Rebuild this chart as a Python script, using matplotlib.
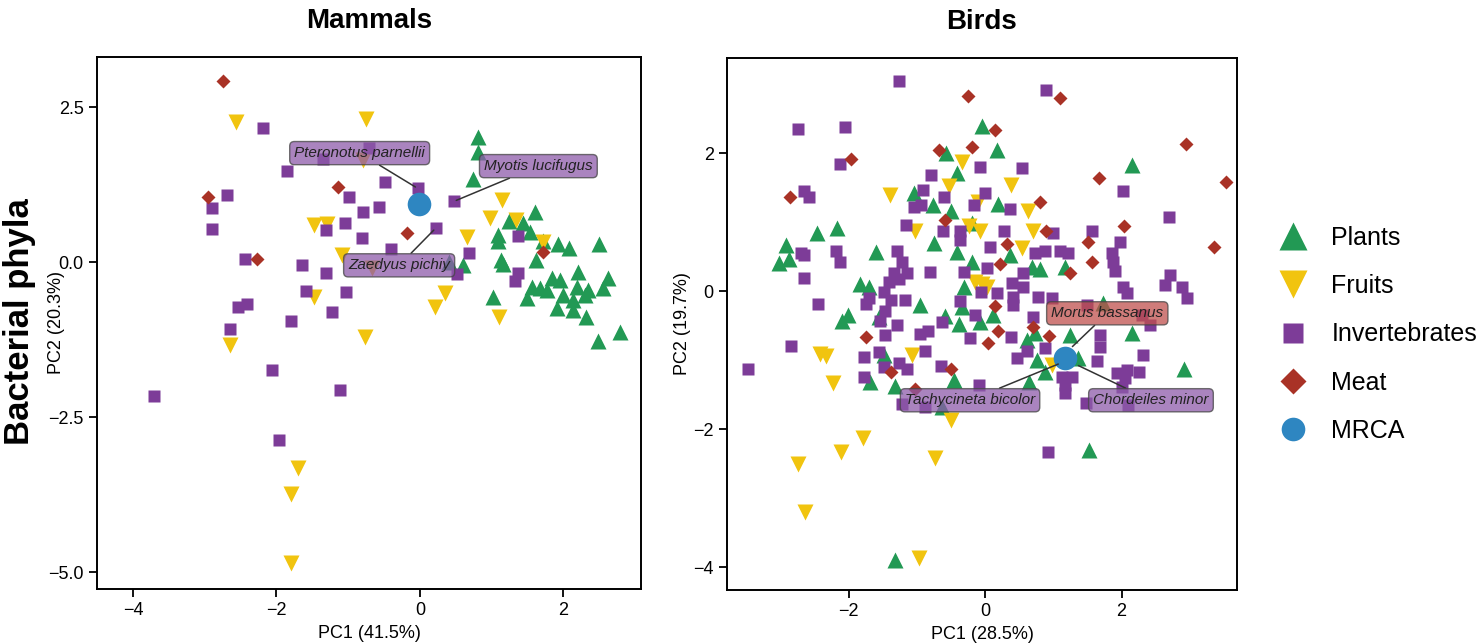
import matplotlib
matplotlib.use("Agg")
import matplotlib.pyplot as plt
from matplotlib.lines import Line2D

plt.rcParams['font.family'] = ['Liberation Sans', 'DejaVu Sans']

# colours per diet group
c_plants = '#229954'
c_fruits = '#F1C40F'
c_invert = '#7D3C98'
c_meat = '#A93226'
c_mrca = '#2E86C1'

# ---------------- Mammals (PC1 41.5%, PC2 20.3%) ----------------
mam_plants_x = [0.81, 0.81, 0.74, 1.60, 1.24, 1.44, 1.09, 1.09, 1.53, 1.72, 1.92, 2.08, 2.50,
                1.62, 1.13, 1.16, 2.20, 1.84, 1.95, 1.56, 1.67, 1.77, 2.19, 2.34, 2.55, 1.49,
                1.99, 2.30, 2.13, 1.02, 1.91, 2.13, 2.32, 2.79, 2.48, 0.40, 0.60, 2.62]
mam_plants_y = [2.02, 1.78, 1.34, 0.81, 0.66, 0.63, 0.44, 0.35, 0.48, 0.35, 0.29, 0.23, 0.29,
                0.03, 0.03, -0.03, -0.16, -0.26, -0.29, -0.40, -0.42, -0.45, -0.40, -0.44, -0.42, -0.58,
                -0.53, -0.53, -0.61, -0.56, -0.74, -0.77, -0.89, -1.13, -1.27, 0.0, -0.05, -0.26]
mam_fruits_x = [-2.57, -1.48, -1.30, -1.09, -1.48, -2.64, -1.70, -1.80, -1.79, -0.75, -0.80,
                -0.67, 0.66, 0.35, 0.21, 1.10, 1.14, 0.98, 1.34, 1.72, -0.77]
mam_fruits_y = [2.26, 0.60, 0.61, 0.11, -0.56, -1.34, -3.32, -3.74, -4.85, 2.31, 1.65,
                -0.10, 0.40, -0.50, -0.73, -0.89, 1.00, 0.71, 0.68, 0.32, -1.21]
mam_invert_x = [-2.19, -1.35, -1.85, -2.69, -2.90, -2.90, -0.99, -1.05, -1.31, -2.44, -1.65,
                -1.31, -1.59, -1.03, -2.54, -2.41, -1.23, -1.79, -2.64, -2.06, -3.70, -1.12,
                -1.97, -0.71, -0.49, -0.03, 0.47, -0.79, -0.57, 0.22, -0.81, -0.40, 0.68,
                0.52, 1.37, 1.37, 1.33]
mam_invert_y = [2.16, 1.66, 1.47, 1.08, 0.87, 0.53, 1.06, 0.63, 0.52, 0.06, -0.05,
                -0.18, -0.47, -0.48, -0.73, -0.68, -0.81, -0.94, -1.08, -1.73, -2.15, -2.06,
                -2.87, 1.85, 1.29, 1.19, 0.98, 0.81, 0.89, 0.55, 0.39, 0.21, 0.15,
                -0.19, 0.42, -0.18, -0.30]
mam_meat_x = [-2.75, -1.14, -2.96, -2.27, -0.18, 1.72]
mam_meat_y = [2.92, 1.21, 1.06, 0.05, 0.47, 0.16]
mam_mrca = (-0.01, 0.94)

# ---------------- Birds (PC1 28.5%, PC2 19.7%) ----------------
bird_plants_x = [-0.04, -0.57, -0.41, -1.04, -0.76, -0.50, -0.19, -2.17, -2.46, 0.18, 2.15, 0.19,
                 -2.91, -3.02, -2.87, -1.60, -1.83, -1.70, -0.95, -1.55, -2.01, -2.09, -0.59,
                 -0.38, -0.07, -0.34, -0.31, -0.19, -0.75, -0.41, -1.48, -1.68, -1.32, -0.45,
                 -1.32, 1.52, 0.37, 0.69, 0.81, 1.17, 0.12, 0.61, 0.73, 1.24, 0.76, 0.88, 0.64,
                 1.36, 2.15, 2.91, 1.73, -0.63]
bird_plants_y = [2.39, 2.00, 1.71, 1.42, 1.25, 1.16, 0.99, 0.91, 0.84, 2.04, 1.83, 1.26,
                 0.67, 0.41, 0.46, 0.57, 0.10, 0.06, -0.20, -0.38, -0.35, -0.43, -0.36,
                 -0.48, -0.45, -0.23, 0.06, 0.42, 0.70, 0.57, -0.93, -1.32, -1.38, -1.29,
                 -3.90, -2.30, 0.52, 0.35, 0.32, 0.35, -0.35, -0.71, -0.61, -0.64, -1.00, -1.17, -1.32,
                 -0.97, -0.61, -1.12, -0.17, -1.68]
bird_fruits_x = [-0.34, -0.53, -1.39, -0.10, -1.03, -0.23, -0.07, 0.38, 0.63, 0.70, -0.15,
                 -2.42, -2.33, -2.23, -1.07, -0.50, -1.79, -2.11, -2.74, -0.73, -2.64, -0.97,
                 0.54, 0.03, 0.98, -0.05]
bird_fruits_y = [1.87, 1.52, 1.39, 1.30, 0.87, 0.94, 0.87, 1.54, 1.16, 0.87, 0.13,
                 -0.91, -0.94, -1.33, -0.93, -1.87, -2.13, -2.33, -2.51, -2.42, -3.20, -3.87,
                 0.62, 0.06, -1.07, 0.10]
bird_invert_x = [-1.26, -2.74, -2.05, -2.12, -0.07, -0.79, -2.65, -2.58, -0.91, -0.60, -1.04,
                 -0.94, -0.16, -1.16, -0.61, -0.37, 0.89, 0.54, 2.02, 0.00, 0.37, 2.69, 1.57,
                 0.99, 0.28, -2.69, -2.65, -2.18, -2.12, -1.29, -1.22, -1.14, -1.33, -1.41,
                 -1.26, -1.48, -1.38, -1.17, -1.70, -1.74, -2.65, -2.45, -1.46, -1.54, -1.29,
                 -1.46, -0.95, -0.83, -0.88, -0.63, -0.22, -0.15, -0.37, -0.06, -0.31, -0.81,
                 -0.37, -2.84, -3.47, -1.77, -1.55, -1.48, -1.26, -1.14, -1.77, -0.64, -0.09,
                 0.07, 0.73, 0.88, 1.10, 1.22, 1.98, 1.86, 1.87, 1.90, 0.03, 0.56, 0.40, 0.56,
                 0.18, 0.41, 0.78, 0.98, 0.41, 2.02, 2.08, 2.71, 2.64, 2.88, 2.96, 0.70, 0.38,
                 0.88, 0.47, 0.61, 1.13, 1.27, 1.17, 1.17, 1.68, 1.68, 1.64, 2.31, 1.93, 2.08,
                 2.25, 2.05, 2.01, 1.48, 0.92, 2.30, 2.42, 1.49, -1.21, -0.88, 2.09]
bird_invert_y = [3.04, 2.35, 2.38, 1.85, 1.80, 1.68, 1.45, 1.36, 1.46, 1.36, 1.22,
                 1.25, 1.25, 0.96, 0.87, 0.87, 2.91, 1.78, 1.45, 1.42, 1.19, 1.07, 0.87,
                 0.84, 0.87, 0.55, 0.52, 0.58, 0.42, 0.58, 0.42, 0.26, 0.26, 0.14,
                 0.17, -0.01, -0.13, -0.13, -0.10, -0.19, 0.19, -0.19, -0.28, -0.43, -0.49,
                 -0.64, -0.62, -0.58, -0.86, -0.45, -0.68, -0.35, -0.14, -0.01, 0.28, 0.28,
                 0.74, -0.80, -1.12, -0.96, -0.88, -1.10, -1.04, -1.13, -1.25, -1.09, -1.36,
                 0.64, 0.55, 0.59, 0.59, 0.55, 0.71, 0.55, 0.42, 0.30, 0.33, 0.26, 0.12, 0.06,
                 -0.03, -0.09, -0.09, -0.10, -0.20, 0.06, -0.03, 0.23, 0.09, 0.06, -0.10, -0.38, -0.67,
                 -0.83, -0.97, -0.86, -1.25, -1.25, -1.36, -1.48, -0.64, -0.81, -1.01, -0.93, -1.19, -1.14,
                 -1.17, -1.26, -1.39, -1.62, -2.33, -0.35, -0.49, -0.20, -1.63, -1.68, -1.65]
bird_meat_x = [-0.25, -0.67, -0.19, -1.96, -2.86, -0.59, 1.10, 0.15, 2.94, 1.67, 3.53, 0.81,
               2.04, 0.89, -1.74, -1.38, -1.02, -0.50, 0.32, 1.51, 1.57, 3.35, 0.22, 1.24,
               0.15, 0.19, 0.04, 0.70, 0.94]
bird_meat_y = [2.83, 2.04, 2.09, 1.91, 1.36, 1.03, 2.80, 2.33, 2.14, 1.64, 1.59, 1.29,
               0.94, 0.88, -0.67, -1.17, -1.41, -1.13, 0.68, 0.71, 0.42, 0.64, 0.39, 0.26,
               -0.22, -0.57, -0.75, -0.52, -0.65]
bird_mrca = (1.17, -0.97)

groups = ['Plants', 'Fruits', 'Invertebrates', 'Meat', 'MRCA']

fig = plt.figure(figsize=(14.8, 6.43), dpi=100)
ax1 = fig.add_axes([97/1480, 1-589/643, 544/1480, 532/643])
ax2 = fig.add_axes([727/1480, 1-590/643, 510/1480, 532/643])


def draw_panel(ax, pl, fr, inv, me, mrca):
    ax.plot(pl[0], pl[1], '^', ms=12, color=c_plants, mec='none', ls='none')
    ax.plot(fr[0], fr[1], 'v', ms=12, color=c_fruits, mec='none', ls='none')
    ax.plot(inv[0], inv[1], 's', ms=8, color=c_invert, mec='none', ls='none')
    ax.plot(me[0], me[1], 'D', ms=7, color=c_meat, mec='none', ls='none')
    ax.plot([mrca[0]], [mrca[1]], 'o', ms=17, color=c_mrca, mec='none', ls='none', zorder=4)
    for s in ax.spines.values():
        s.set_linewidth(1.4)
    ax.tick_params(labelsize=13, length=6, width=1.3)


def tag(ax, text, xy, xytext, fc):
    ax.annotate(text, xy=xy, xytext=xytext, ha='center', va='center',
                fontsize=11, style='italic', color='#222222', zorder=6,
                bbox=dict(boxstyle='round,pad=0.3,rounding_size=0.3', fc=fc,
                          ec='#444444', alpha=0.75, lw=1),
                arrowprops=dict(arrowstyle='-', color='#333333', lw=1.1,
                                shrinkA=0, shrinkB=2))


draw_panel(ax1, (mam_plants_x, mam_plants_y), (mam_fruits_x, mam_fruits_y),
           (mam_invert_x, mam_invert_y), (mam_meat_x, mam_meat_y), mam_mrca)
ax1.set_xlim(-4.50, 3.08)
ax1.set_ylim(-5.27, 3.31)
ax1.set_xticks([-4, -2, 0, 2])
ax1.set_yticks([2.5, 0.0, -2.5, -5.0])
ax1.set_yticklabels(['2.5', '0.0', '\u22122.5', '\u22125.0'])
ax1.set_xlabel('PC1 (41.5%)', fontsize=13)
ax1.set_ylabel('PC2 (20.3%)', fontsize=13)
ax1.yaxis.set_label_coords(-0.059, 0.5)
ax1.set_title('Mammals', fontsize=20, fontweight='bold', pad=21)
tag(ax1, 'Pteronotus parnellii', (-0.03, 1.19), (-0.84, 1.76), '#8E5BAA')
tag(ax1, 'Myotis lucifugus', (0.47, 0.98), (1.65, 1.55), '#8E5BAA')
tag(ax1, 'Zaedyus pichiy', (0.22, 0.55), (-0.29, -0.05), '#8E5BAA')

draw_panel(ax2, (bird_plants_x, bird_plants_y), (bird_fruits_x, bird_fruits_y),
           (bird_invert_x, bird_invert_y), (bird_meat_x, bird_meat_y), bird_mrca)
ax2.set_xlim(-3.78, 3.69)
ax2.set_ylim(-4.33, 3.38)
ax2.set_xticks([-2, 0, 2])
ax2.set_yticks([2, 0, -2, -4])
ax2.set_xlabel('PC1 (28.5%)', fontsize=13)
ax2.set_ylabel('PC2 (19.7%)', fontsize=13)
ax2.yaxis.set_label_coords(-0.071, 0.5)
ax2.set_title('Birds', fontsize=20, fontweight='bold', pad=21)
tag(ax2, 'Morus bassanus', (1.25, -0.83), (1.79, -0.32), '#C0504D')
tag(ax2, 'Tachycineta bicolor', (1.11, -1.04), (-0.22, -1.58), '#8E5BAA')
tag(ax2, 'Chordeiles minor', (1.33, -1.06), (2.43, -1.58), '#8E5BAA')

fig.text(0.0135, 0.50, 'Bacterial phyla', rotation=90, fontsize=25,
         fontweight='bold', ha='center', va='center')

handles = [
    Line2D([], [], marker='^', ms=20, color=c_plants, mec='none', ls='none'),
    Line2D([], [], marker='v', ms=20, color=c_fruits, mec='none', ls='none'),
    Line2D([], [], marker='s', ms=14, color=c_invert, mec='none', ls='none'),
    Line2D([], [], marker='D', ms=13, color=c_meat, mec='none', ls='none'),
    Line2D([], [], marker='o', ms=17, color=c_mrca, mec='none', ls='none'),
]
fig.legend(handles, groups, loc='center left', bbox_to_anchor=(0.854, 0.48),
           frameon=False, fontsize=18, labelspacing=0.97, handlelength=1.5,
           handletextpad=0.8, borderaxespad=0)

fig.savefig('out.png', dpi=100)
